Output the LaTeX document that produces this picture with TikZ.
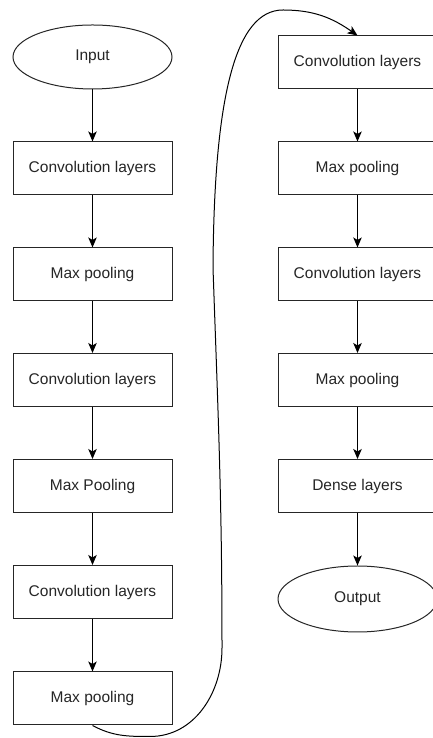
\documentclass[tikz,border=0pt]{standalone}
\usepackage{fontspec}
\setmainfont{Liberation Sans}
\usetikzlibrary{arrows.meta,shapes.geometric}
\begin{document}
\begin{tikzpicture}[x=1pt,y=1pt,
  every node/.style={font=\fontsize{15.5}{18}\selectfont, text=black!85},
  stepbox/.style={draw=black!85, line width=1pt, rectangle, minimum width=159pt, minimum height=53pt, inner sep=0pt},
  endpoint/.style={draw=black!85, line width=1pt, ellipse, minimum width=159pt, minimum height=64pt, inner sep=0pt},
  arr/.style={draw=black, line width=1pt, -{Stealth[length=10pt,width=8.5pt,inset=2.5pt]}}]
\clip (0,0) rectangle (433,738);
\useasboundingbox (0,0) rectangle (433,738);
\fill[white] (0,0) rectangle (433,738);
% left column
\node[endpoint] (in) at (92.5,681) {Input};
\node[stepbox] (l1) at (92.5,569.5) {Convolution layers};
\node[stepbox] (l2) at (92.5,463.5) {Max pooling};
\node[stepbox] (l3) at (92.5,358) {Convolution layers};
\node[stepbox] (l4) at (92.5,252) {Max Pooling};
\node[stepbox] (l5) at (92.5,146) {Convolution layers};
\node[stepbox] (l6) at (92.5,39.5) {Max pooling};
% right column
\node[stepbox] (r1) at (357.5,675.5) {Convolution layers};
\node[stepbox] (r2) at (357.5,569.5) {Max pooling};
\node[stepbox] (r3) at (357.5,463.5) {Convolution layers};
\node[stepbox] (r4) at (357.5,358) {Max pooling};
\node[stepbox] (r5) at (357.5,252) {Dense layers};
\node[endpoint, minimum height=66pt] (out) at (357.5,139) {Output};
% connectors
\draw[arr] (in) -- (l1);
\draw[arr] (l1) -- (l2);
\draw[arr] (l2) -- (l3);
\draw[arr] (l3) -- (l4);
\draw[arr] (l4) -- (l5);
\draw[arr] (l5) -- (l6);
\draw[arr] (r1) -- (r2);
\draw[arr] (r2) -- (r3);
\draw[arr] (r3) -- (r4);
\draw[arr] (r4) -- (r5);
\draw[arr] (r5) -- (out);
\coordinate (b1) at (150,1.5);
\coordinate (b2) at (222,90);
\coordinate (b3) at (213,470);
\coordinate (b4) at (283,728);
\draw[arr] (l6.south) to[out=-28,in=180] (b1) to[out=0,in=-90] (b2)
  to[out=90,in=-88] (b3) .. controls (214,640) and (235,728) .. (b4)
  to[out=0,in=145] (r1.north);
\end{tikzpicture}
\end{document}
